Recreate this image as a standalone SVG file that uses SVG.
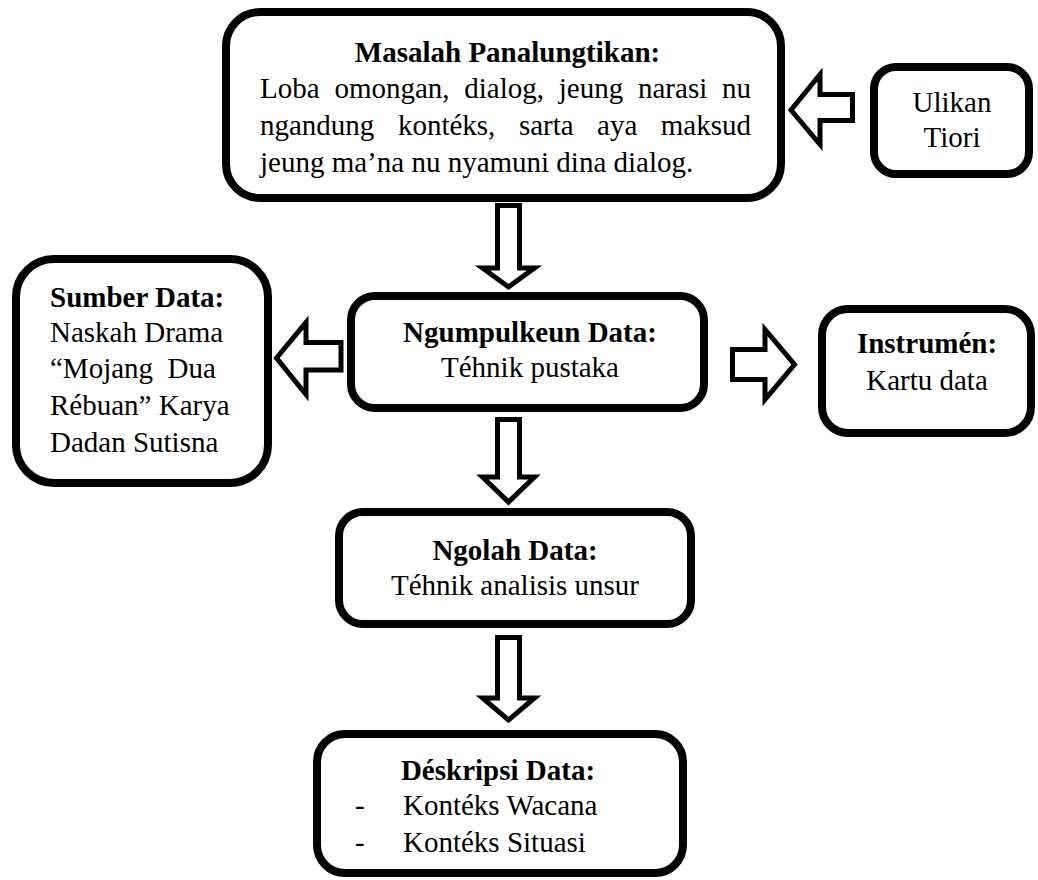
<svg xmlns="http://www.w3.org/2000/svg" width="1038" height="880" viewBox="0 0 1038 880">
<style>
.box{fill:#fff;stroke:#000;stroke-width:8}
.arr{fill:#fff;stroke:#000;stroke-width:5;stroke-linejoin:miter;stroke-miterlimit:10}
text{font-family:"Liberation Serif","Times New Roman",serif;font-size:29px;fill:#000}
.b{font-weight:bold}
.c{text-anchor:middle}
</style>
<rect width="1038" height="880" fill="#fff"/>
<g id="connectors">
<path class="arr" d="M791,110 L820,74.5 V94.5 H852.5 V120.5 H820 V144.5 Z"/>
<path class="arr" d="M497.5,205.5 H519.5 V268 H534.5 L508.5,287 L482.5,268 H497.5 Z"/>
<path class="arr" d="M276.5,358 L306,322.5 V342.5 H341 V370 H306 V394.5 Z"/>
<path class="arr" d="M732.5,349.5 H765 V329.5 L794.5,364.5 L765,399.5 V379.5 H732.5 Z"/>
<path class="arr" d="M497.5,419.5 H519.5 V477 H534.5 L508.5,502 L482.5,477 H497.5 Z"/>
<path class="arr" d="M497.5,637.5 H519.5 V698 H534.5 L508.5,720 L482.5,698 H497.5 Z"/>
</g>
<g id="masalah">
<rect class="box" x="226" y="12" width="555" height="186" rx="34"/>
<text class="b c" x="507.5" y="62">Masalah Panalungtikan:</text>
<text y="98"><tspan x="260">Loba</tspan><tspan x="334.4">omongan,</tspan><tspan x="464.3">dialog,</tspan><tspan x="558.8">jeung</tspan><tspan x="638">narasi</tspan><tspan x="722">nu</tspan></text>
<text y="135"><tspan x="260">ngandung</tspan><tspan x="397.9">kontéks,</tspan><tspan x="518.9">sarta</tspan><tspan x="597.1">aya</tspan><tspan x="660.8">maksud</tspan></text>
<text x="260" y="172">jeung ma’na nu nyamuni dina dialog.</text>
</g>
<g id="ulikan">
<rect class="box" x="874" y="67" width="155" height="107" rx="22"/>
<text class="c" x="952" y="112">Ulikan</text>
<text class="c" x="952" y="147">Tiori</text>
</g>
<g id="sumber">
<rect class="box" x="16" y="259" width="252" height="224" rx="38"/>
<text class="b" x="50" y="307">Sumber Data:</text>
<text x="50" y="342">Naskah Drama</text>
<text x="50" y="378" xml:space="preserve">“Mojang  Dua</text>
<text x="50" y="415">Rébuan” Karya</text>
<text x="50" y="452">Dadan Sutisna</text>
</g>
<g id="ngumpulkeun">
<rect class="box" x="351" y="296" width="353" height="112" rx="24"/>
<text class="b c" x="530" y="342">Ngumpulkeun Data:</text>
<text class="c" x="530" y="377">Téhnik pustaka</text>
</g>
<g id="instrumen">
<rect class="box" x="822" y="309" width="209" height="124" rx="26"/>
<text class="b c" x="927" y="353">Instrumén:</text>
<text class="c" x="927" y="390">Kartu data</text>
</g>
<g id="ngolah">
<rect class="box" x="339" y="512" width="352" height="112" rx="24"/>
<text class="b c" x="515" y="560">Ngolah Data:</text>
<text class="c" x="515" y="595">Téhnik analisis unsur</text>
</g>
<g id="deskripsi">
<rect class="box" x="317" y="734" width="366" height="139" rx="28"/>
<text class="b c" x="498" y="780">Déskripsi Data:</text>
<text x="355" y="815">-</text>
<text x="403" y="815">Kontéks Wacana</text>
<text x="355" y="852">-</text>
<text x="403" y="852">Kontéks Situasi</text>
</g>
</svg>
